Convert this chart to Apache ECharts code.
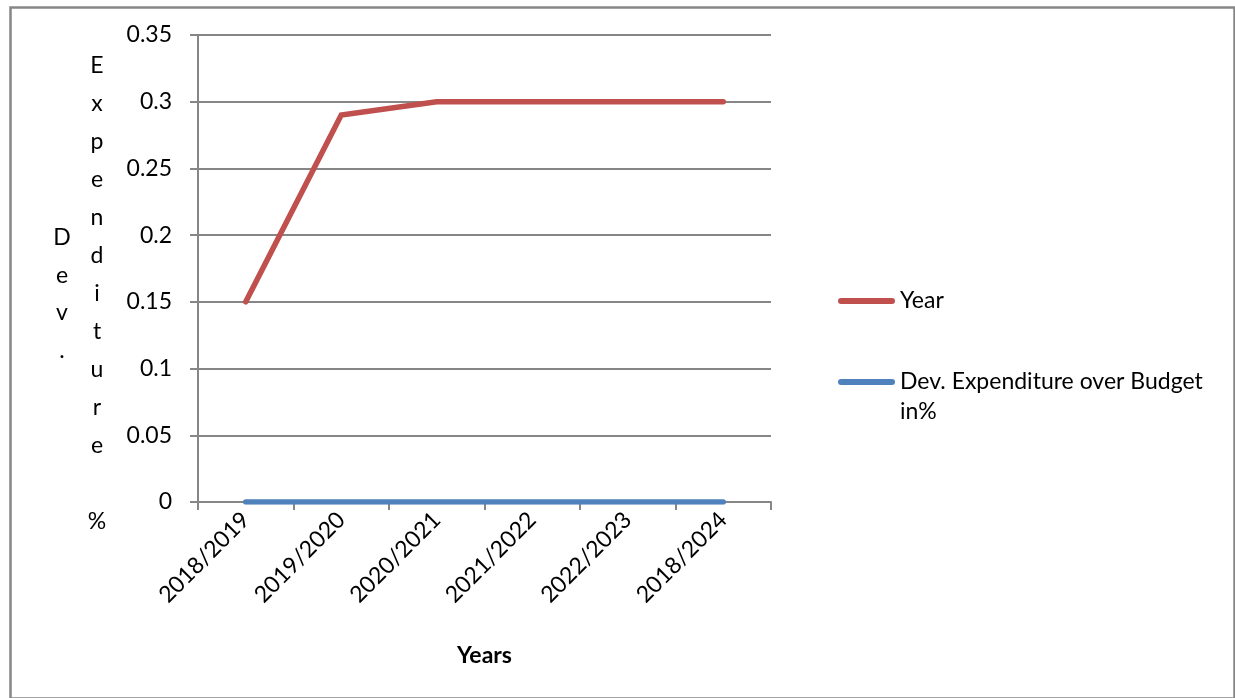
<!DOCTYPE html>
<html>
<head>
<meta charset="utf-8">
<script src="https://cdn.jsdelivr.net/npm/echarts@6/dist/echarts.min.js"></script>
<style>
html,body{margin:0;padding:0;background:#fff;}
#c{width:1235px;height:698px;}
</style>
</head>
<body>
<div id="c"></div>
<script>
var categories = ['2018/2019', '2019/2020', '2020/2021', '2021/2022', '2022/2023', '2018/2024'];
var yearValues = [0.15, 0.29, 0.30, 0.30, 0.30, 0.30];
var devValues = [0, 0, 0, 0, 0, 0];
var seriesNames = ['Year', 'Dev. Expenditure over Budget in%'];
var yTitleCol1 = 'Dev.';
var yTitleCol2 = 'Expenditure %';

var FONT = 'Lato, "Open Sans", sans-serif';
var FS = 23;
var chart = echarts.init(document.getElementById('c'), null, {renderer: 'canvas'});

function vertical(s) { return s.split('').join('\n'); }

var option = {
  backgroundColor: '#fff',
  animation: false,
  grid: {left: 198, right: 464, top: 35, bottom: 196, containLabel: false},
  xAxis: {
    type: 'category',
    data: categories,
    boundaryGap: true,
    name: 'Years',
    nameLocation: 'middle',
    nameGap: 142,
    nameTextStyle: {fontFamily: FONT, fontSize: FS, fontWeight: 'bold', color: '#000'},
    axisLine: {lineStyle: {color: '#868686', width: 2}},
    axisTick: {show: true, length: 8, alignWithLabel: false, lineStyle: {color: '#868686', width: 2}},
    axisLabel: {rotate: 45, margin: 14, fontFamily: FONT, fontSize: FS, color: '#000', interval: 0},
    splitLine: {show: false}
  },
  yAxis: {
    type: 'value',
    min: 0, max: 0.35, interval: 0.05,
    axisLine: {show: true, lineStyle: {color: '#868686', width: 2}},
    axisTick: {show: true, length: 8, lineStyle: {color: '#868686', width: 2}},
    axisLabel: {margin: 26, fontFamily: FONT, fontSize: FS, color: '#000',
      formatter: function (v) { return String(+v.toFixed(2)); }},
    splitLine: {show: true, lineStyle: {color: '#868686', width: 2}}
  },
  legend: [{
    data: [seriesNames[0]],
    orient: 'vertical',
    left: 833, top: 281,
    itemWidth: 57, itemHeight: 6, itemGap: 0,
    icon: 'path://M3,0 H54 A3,3 0 0 1 54,6 H3 A3,3 0 0 1 3,0 Z',
    textStyle: {fontFamily: FONT, fontSize: FS, color: '#000', lineHeight: 30}
  }, {
    data: [seriesNames[1]],
    orient: 'vertical',
    left: 833, top: 332,
    itemWidth: 57, itemHeight: 6, itemGap: 0,
    icon: 'path://M3,0 H54 A3,3 0 0 1 54,6 H3 A3,3 0 0 1 3,0 Z',
    formatter: function (n) { return '\n' + n.replace(' in%', '\nin%'); },
    textStyle: {fontFamily: FONT, fontSize: FS, color: '#000', lineHeight: 30}
  }],
  graphic: [
    {type: 'rect', left: 8, top: 5, shape: {width: 1224, height: 691},
     style: {fill: 'none', stroke: '#868686', lineWidth: 2.5}, silent: true},
    {type: 'text', x: 62, y: 294,
     style: {text: vertical(yTitleCol1), font: FS + 'px ' + FONT, fill: '#000', align: 'center', verticalAlign: 'middle', lineHeight: 37.5}},
    {type: 'text', x: 97, y: 294,
     style: {text: vertical(yTitleCol2), font: FS + 'px ' + FONT, fill: '#000', align: 'center', verticalAlign: 'middle', lineHeight: 38}}
  ],
  series: [{
    name: seriesNames[0],
    type: 'line',
    data: yearValues,
    symbol: 'none',
    color: '#C0504D',
    lineStyle: {width: 5.5, color: '#C0504D', cap: 'round', join: 'miter'},
    z: 3
  }, {
    name: seriesNames[1],
    type: 'line',
    data: devValues,
    symbol: 'none',
    color: '#4F81BD',
    lineStyle: {width: 5.5, color: '#4F81BD', cap: 'round'},
    z: 3
  }]
};
chart.setOption(option);
</script>
</body>
</html>
